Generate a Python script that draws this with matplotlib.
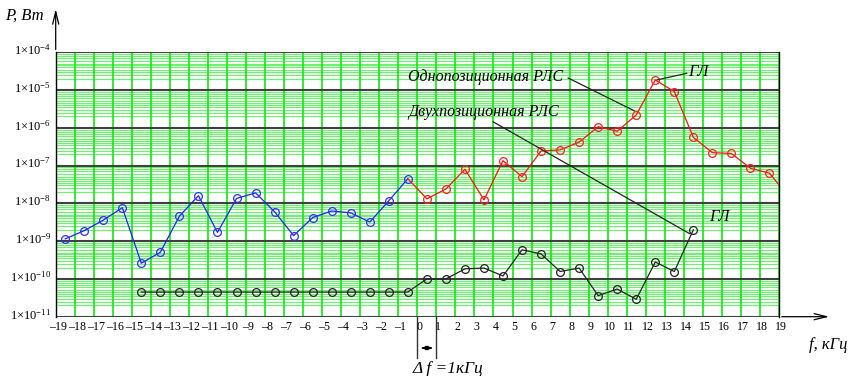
import numpy as np
import matplotlib
matplotlib.use("Agg")
import matplotlib.pyplot as plt
from matplotlib.transforms import blended_transform_factory

plt.rcParams['mathtext.fontset'] = 'custom'
plt.rcParams['mathtext.rm'] = 'Liberation Serif'
plt.rcParams['mathtext.it'] = 'Liberation Serif:italic'

# ---------------- data ----------------
x_ticks = list(range(-19, 20))
y_decades = [-11, -10, -9, -8, -7, -6, -5, -4]

blue_x = [-18.5, -17.5, -16.5, -15.5, -14.5, -13.5, -12.5, -11.5, -10.5, -9.5,
          -8.5, -7.5, -6.5, -5.5, -4.5, -3.5, -2.5, -1.5, -0.5]
blue_y = [1.15e-9, 1.9e-9, 3.6e-9, 7.7e-9, 2.6e-10, 5.1e-10, 4.6e-9, 1.6e-8, 1.7e-9, 1.35e-8,
          1.9e-8, 6.0e-9, 1.4e-9, 4.2e-9, 6.3e-9, 5.6e-9, 3.2e-9, 1.17e-8, 4.5e-8]

red_x = [-0.5, 0.5, 1.5, 2.5, 3.5, 4.5, 5.5, 6.5, 7.5, 8.5, 9.5, 10.5, 11.5, 12.5,
         13.5, 14.5, 15.5, 16.5, 17.5, 18.5, 19.5]
red_y = [4.5e-8, 1.32e-8, 2.4e-8, 8.0e-8, 1.24e-8, 1.35e-7, 5.1e-8, 2.45e-7, 2.6e-7, 4.2e-7,
         1.07e-6, 8.1e-7, 2.2e-6, 1.85e-5, 9.1e-6, 5.6e-7, 2.2e-7, 2.1e-7, 8.5e-8, 6.3e-8, 1.5e-8]

black_x = [-14.5, -13.5, -12.5, -11.5, -10.5, -9.5, -8.5, -7.5, -6.5, -5.5, -4.5, -3.5,
           -2.5, -1.5, -0.5, 0.5, 1.5, 2.5, 3.5, 4.5, 5.5, 6.5, 7.5, 8.5, 9.5, 10.5,
           11.5, 12.5, 13.5, 14.5]
black_y = [4.5e-11] * 15 + [1.0e-10, 1.0e-10, 1.85e-10, 1.94e-10, 1.2e-10, 5.9e-10, 4.6e-10,
                            1.57e-10, 1.94e-10, 3.6e-11, 5.4e-11, 2.9e-11, 2.8e-10, 1.57e-10, 2.0e-9]

label_mono = "Однопозиционная РЛС"
label_bi = "Двухпозиционная РЛС"
label_gl = "ГЛ"
ylabel = "P, Вт"
xlabel = "f, кГц"
df_label = "Δ f =1кГц"

# ---------------- figure ----------------
W, H = 857, 376
fig = plt.figure(figsize=(W / 100, H / 100), dpi=100)
x0, x1 = 55.7, 779.0
yb, yt = 316.7, 52.3
ax = fig.add_axes([x0 / W, 1 - yb / H, (x1 - x0) / W, (yb - yt) / H])
ax.set_xlim(-19, 19)
ax.set_yscale('log')
ax.set_ylim(1e-11, 1e-4)

# grid
subs = [2, 2.5, 3, 3.5, 4, 4.5, 5, 6, 7, 8, 9]
for d in y_decades[:-1]:
    for k in subs:
        ax.axhline(k * 10.0 ** d, color='#70f070', lw=0.85, zorder=1)
for v in x_ticks:
    ax.axvline(v, color='#10e810', lw=1.2, zorder=1.2)
for d in y_decades:
    ax.axhline(10.0 ** d, color='#404040', lw=1.5, zorder=1.5)

ax.set_xticks([])
ax.set_yticks([])
ax.minorticks_off()
ax.tick_params(which='both', length=0, labelleft=False, labelbottom=False)
for s in ['top', 'bottom']:
    ax.spines[s].set_visible(False)
ax.spines['left'].set_color('black')
ax.spines['right'].set_color('black')
ax.spines['left'].set_linewidth(1.0)
ax.spines['right'].set_linewidth(1.0)

# series
ms = 5.6
ax.plot(blue_x, blue_y, color='#2020ff', lw=0.9, marker='o', ms=ms, mfc='none',
        mec='#3030ff', mew=0.9, zorder=3)
ax.plot(red_x, red_y, color='#ff1010', lw=0.9, marker='o', ms=ms, mfc='none',
        mec='#ff2020', mew=0.9, zorder=3, markevery=list(range(1, len(red_x))))
ax.plot(black_x, black_y, color='#222222', lw=0.9, marker='o', ms=ms, mfc='none',
        mec='#222222', mew=0.9, zorder=3)

serif = ['Liberation Serif', 'DejaVu Serif']

# tick labels
tx = blended_transform_factory(ax.transData, ax.transAxes)
for v in x_ticks:
    lab = f"–{abs(v)}" if v < 0 else f"{v}"
    ax.text(v + 0.1, -0.04, lab, transform=tx, ha='center', va='center',
            fontsize=8.6, family=serif, clip_on=False)
ty = blended_transform_factory(ax.transAxes, ax.transData)
for d in y_decades:
    ax.text(-0.006, 10.0 ** d * 1.12, rf"$\mathrm{{1{{\times}}10^{{{d}}}}}$", transform=ty,
            ha='right', va='center', fontsize=9, clip_on=False)

# axis arrows
ax.annotate('', xy=(0, 1 + 46 / (yb - yt)), xytext=(0, 1), xycoords='axes fraction',
            arrowprops=dict(arrowstyle='->,head_length=0.9,head_width=0.22', lw=0.9, color='black'),
            annotation_clip=False)
ax.annotate('', xy=(1 + 53 / (x1 - x0), 0), xytext=(1, 0), xycoords='axes fraction',
            arrowprops=dict(arrowstyle='->,head_length=0.9,head_width=0.22', lw=0.9, color='black'),
            annotation_clip=False)

fig.text(5 / W, 1 - 16 / H, ylabel, fontsize=12, style='italic', family=serif,
         ha='left', va='center')
fig.text(809 / W, 1 - 345 / H, xlabel, fontsize=12, style='italic', family=serif,
         ha='left', va='center')

# delta f marker
ylow = -(358 - yb) / (yb - yt)
for v in [0, 1]:
    ax.plot([v, v], [0, ylow], transform=tx, color='#333333', lw=1.0, clip_on=False)
ax.annotate('', xy=(1, -(348 - yb) / (yb - yt)), xytext=(0, -(348 - yb) / (yb - yt)),
            xycoords=tx, arrowprops=dict(arrowstyle='<|-|>,head_length=0.4,head_width=0.12',
                                         lw=0.9, color='black'), annotation_clip=False)
fig.text(413 / W, 1 - 369 / H, df_label, fontsize=12.5, style='italic', family=serif,
         ha='left', va='center')

# annotations
ax.text(-0.5, 10 ** -4.65, label_mono, fontsize=11.5, style='italic', family=serif,
        ha='left', va='center', zorder=5)
ax.text(-0.5, 10 ** -5.58, label_bi, fontsize=11.5, style='italic', family=serif,
        ha='left', va='center', zorder=5)
ax.plot([7.92, 11.4], [10 ** -4.68, 10 ** -5.55], color='#222222', lw=0.9, zorder=4)
ax.plot([3.98, 14.3], [10 ** -5.84, 10 ** -8.8], color='#222222', lw=0.9, zorder=4)
ax.plot([12.6, 14.15], [10 ** -4.73, 10 ** -4.556], color='#222222', lw=0.9, zorder=4)
ax.text(14.25, 10 ** -4.53, label_gl, fontsize=12, style='italic', family=serif,
        ha='left', va='center', zorder=5)
ax.text(15.35, 10 ** -8.37, label_gl, fontsize=12, style='italic', family=serif,
        ha='left', va='center', zorder=5)

fig.savefig('out.png', dpi=100)
